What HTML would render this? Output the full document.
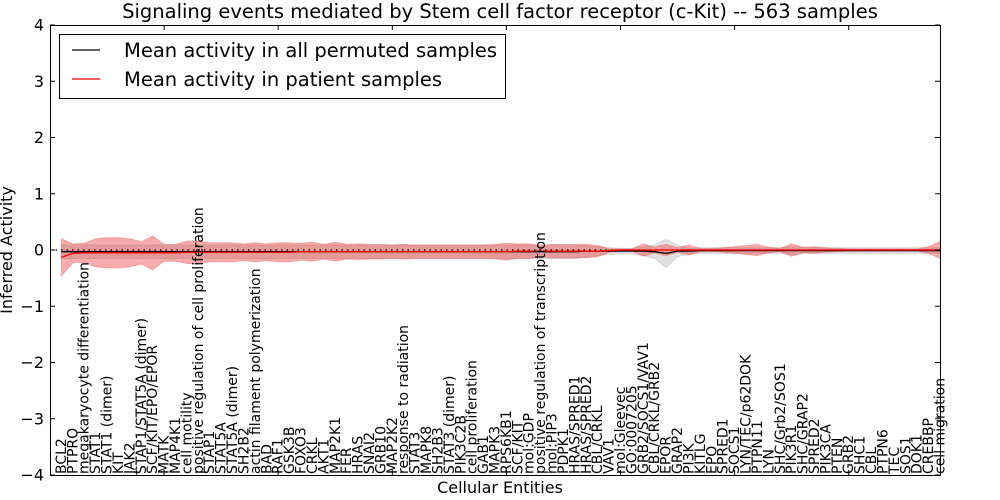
<!DOCTYPE html>
<html><head><meta charset="utf-8"><style>
html,body{margin:0;padding:0;background:#fff;}
svg{display:block;font-family:"DejaVu Sans","Liberation Sans",sans-serif;}
</style></head><body>
<svg id="chart" width="1000" height="500">
<rect width="1000" height="500" fill="#fff"/>
<text x="500" y="18" text-anchor="middle" font-size="19.5">Signaling events mediated by Stem cell factor receptor (c-Kit) -- 563 samples</text>
<g id="plot"></g>
<text x="500" y="493" text-anchor="middle" font-size="16">Cellular Entities</text>
<text transform="translate(12,250) rotate(-90)" text-anchor="middle" font-size="16">Inferred Activity</text>
<g>
<rect x="59.5" y="34.5" width="446" height="64" fill="#fff" stroke="#000" stroke-width="1"/>
<line x1="72" y1="50" x2="100" y2="50" stroke="#000" stroke-width="1.2"/>
<text x="124" y="57" font-size="19.5">Mean activity in all permuted samples</text>
<line x1="72" y1="79" x2="100" y2="79" stroke="#f00" stroke-width="1.2"/>
<text x="124" y="86" font-size="19.5">Mean activity in patient samples</text>
</g>
</svg>
<script>
const categories=["BCL2","PTPRO","megakaryocyte differentiation","STAT1","STAT1 (dimer)","KIT","JAK2","STAP1/STAT5A (dimer)","SCF/KIT/EPO/EPOR","MATK","MAP4K1","cell motility","positive regulation of cell proliferation","STAP1","STAT5A","STAT5A (dimer)","SH2B2","actin filament polymerization","BAD","RAF1","GSK3B","FOXO3","CRKL","AKT1","MAP2K1","FER","HRAS","SNAI2","GRB10","MAP2K2","response to radiation","STAT3","MAPK8","SH2B3","STAT3 (dimer)","PIK3C2B","cell proliferation","GAB1","MAPK3","RPS6KB1","SCF/KIT","mol:GDP","positive regulation of transcription","mol:PIP3","PDPK1","HRAS/SPRED1","HRAS/SPRED2","CBL/CRKL","VAV1","mol:Gleevec","GO:0007205","GRB2/SOCS1/VAV1","CBL/CRKL/GRB2","EPOR","GRAP2","PI3K","KITLG","EPO","SPRED1","SOCS1","LYN/TEC/p62DOK","PTPN11","LYN","SHC/Grb2/SOS1","PIK3R1","SHC/GRAP2","SPRED2","PIK3CA","PTEN","GRB2","SHC1","CBL","PTPN6","TEC","SOS1","DOK1","CREBBP","cell migration"];
const patientMean=[-0.13,-0.06,-0.05,-0.05,-0.05,-0.05,-0.05,-0.05,-0.05,-0.05,-0.05,-0.04,-0.04,-0.04,-0.04,-0.04,-0.04,-0.04,-0.04,-0.04,-0.04,-0.03,-0.03,-0.03,-0.03,-0.03,-0.03,-0.03,-0.03,-0.03,-0.03,-0.03,-0.03,-0.03,-0.03,-0.03,-0.03,-0.03,-0.03,-0.03,-0.02,-0.02,-0.02,-0.02,-0.02,-0.02,-0.02,-0.02,-0.01,0,0,0,0,0,0,0,0,0,0,0,0,0,0,0,0,0,0,0,0,0,0,0,0,0,0,0,0,0];
const patientSd=[0.33,0.17,0.17,0.25,0.27,0.27,0.25,0.2,0.3,0.15,0.15,0.2,0.2,0.17,0.17,0.17,0.15,0.17,0.15,0.17,0.17,0.15,0.17,0.13,0.17,0.13,0.14,0.13,0.13,0.12,0.13,0.12,0.12,0.12,0.12,0.12,0.12,0.12,0.13,0.15,0.13,0.13,0.1,0.12,0.12,0.12,0.12,0.1,0.03,0.02,0.02,0.11,0.05,0.1,0.04,0.09,0.03,0.03,0.04,0.06,0.08,0.1,0.05,0.03,0.11,0.05,0.06,0.04,0.03,0.02,0.02,0.02,0.02,0.02,0.02,0.02,0.06,0.15];
const permMean=[-0.03,-0.03,-0.03,-0.03,-0.03,-0.03,-0.03,-0.03,-0.03,-0.03,-0.03,-0.03,-0.03,-0.03,-0.03,-0.03,-0.03,-0.03,-0.03,-0.03,-0.03,-0.03,-0.03,-0.03,-0.03,-0.03,-0.03,-0.03,-0.03,-0.03,-0.03,-0.03,-0.03,-0.03,-0.03,-0.03,-0.03,-0.03,-0.03,-0.03,-0.03,-0.03,-0.03,-0.03,-0.03,-0.03,-0.02,-0.02,-0.02,-0.02,-0.02,-0.02,-0.03,-0.06,-0.02,-0.02,-0.01,-0.01,-0.01,-0.01,-0.01,-0.01,-0.01,-0.01,-0.01,-0.01,-0.01,-0.01,-0.01,-0.01,-0.01,-0.01,-0.01,-0.01,-0.01,-0.01,-0.01,-0.01];
const permSd=[0.12,0.12,0.12,0.12,0.12,0.12,0.12,0.12,0.12,0.12,0.12,0.12,0.12,0.12,0.12,0.12,0.12,0.12,0.12,0.12,0.12,0.12,0.12,0.12,0.12,0.12,0.12,0.12,0.12,0.12,0.12,0.12,0.12,0.12,0.12,0.12,0.12,0.12,0.12,0.12,0.12,0.12,0.12,0.12,0.12,0.12,0.1,0.08,0.06,0.05,0.05,0.08,0.12,0.25,0.1,0.05,0.05,0.05,0.05,0.05,0.05,0.05,0.05,0.05,0.07,0.05,0.05,0.05,0.05,0.05,0.05,0.05,0.05,0.05,0.05,0.05,0.05,0.05];
const yTicks=[-4,-3,-2,-1,0,1,2,3,4];

const NS="http://www.w3.org/2000/svg";
const L=50,R=940,T=25,B=475;
const xMin=-1,xMax=77,yMin=-4,yMax=4;
const xs=i=>L+(i-xMin)/(xMax-xMin)*(R-L);
const ys=v=>B-(v-yMin)/(yMax-yMin)*(B-T);
const plot=document.getElementById('plot');
function mk(tag,attrs,parent){const e=document.createElementNS(NS,tag);for(const k in attrs)e.setAttribute(k,attrs[k]);(parent||plot).appendChild(e);return e;}
function band(mean,sd){let up=[],dn=[];for(let i=0;i<mean.length;i++){up.push(xs(i)+','+ys(mean[i]+sd[i]));dn.unshift(xs(i)+','+ys(mean[i]-sd[i]));}return up.concat(dn).join(' ');}
function line(mean){return mean.map((v,i)=>xs(i)+','+ys(v)).join(' ');}

const gb=mk('polygon',{points:band(permMean,permSd),fill:'rgba(170,170,170,0.35)',stroke:'rgba(170,170,170,0.4)'});


const rb=mk('polygon',{points:band(patientMean,patientSd),fill:'rgba(235,60,60,0.42)',stroke:'rgba(235,60,60,0.3)'});


const zl=mk('line',{x1:L,x2:R,y1:ys(0),y2:ys(0),stroke:'#000','stroke-dasharray':'1.5,4','stroke-width':1.2});


const bl=mk('polyline',{points:line(permMean),fill:'none',stroke:'#000','stroke-width':1.3});


const rl=mk('polyline',{points:line(patientMean),fill:'none',stroke:'#f00','stroke-width':1.3});



const frame=mk('rect',{x:L+0.5,y:T+0.5,width:R-L,height:B-T,fill:'none',stroke:'#000','stroke-width':1});



yTicks.forEach(v=>{
  const y=ys(v);
  const t1=mk('line',{x1:L,x2:L+5,y1:y,y2:y,stroke:'#000'});
  
  
  const t2=mk('line',{x1:R-5,x2:R,y1:y,y2:y,stroke:'#000'});
  
  
  const tx=mk('text',{x:L-6,y:y+5.5,'text-anchor':'end','font-size':16});
  tx.textContent=(v<0?'\u2212'+Math.abs(v):String(v));
  
  
});
for(let k=9;k<xMax;k+=10){
  const x=xs(k);
  const a=mk('line',{x1:x,x2:x,y1:T,y2:T+5,stroke:'#000'});
  
  
  const b=mk('line',{x1:x,x2:x,y1:B-5,y2:B,stroke:'#000'});
  
  
}
categories.forEach((c,i)=>{
  const x=xs(i);
  const t=mk('text',{transform:'translate('+(x+4.5)+','+(B-1)+') rotate(-90)','font-size':14});
  t.textContent=c;
  
  
});
</script>
</body></html>
